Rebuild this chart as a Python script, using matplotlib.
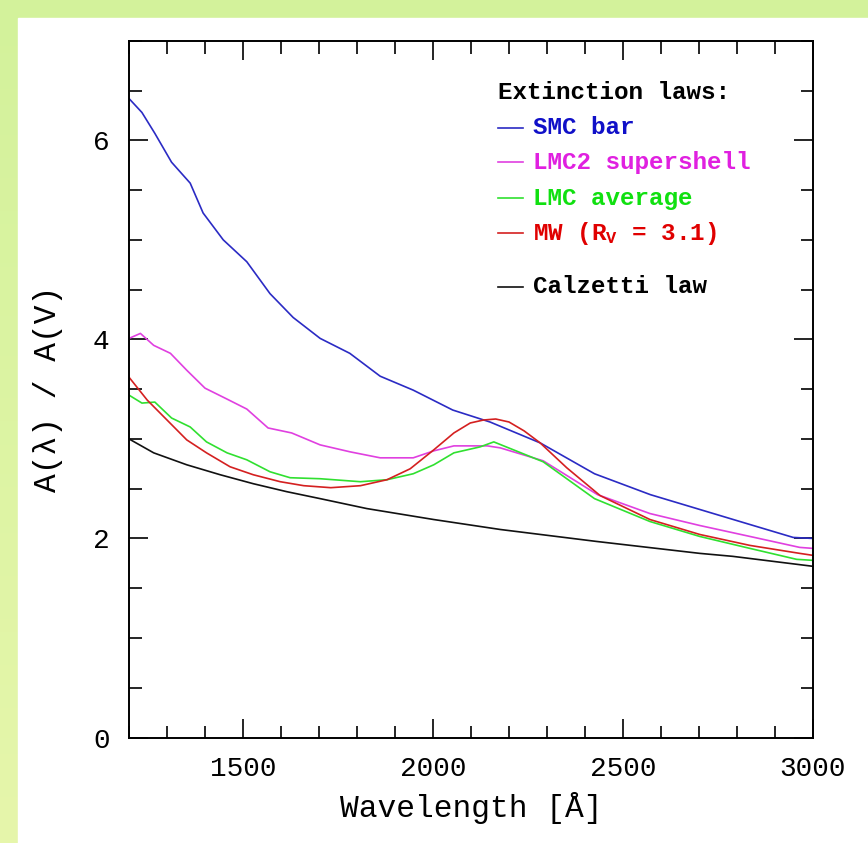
import matplotlib

matplotlib.use("Agg")
import matplotlib.pyplot as plt
import numpy as np
from matplotlib.colors import LinearSegmentedColormap
from matplotlib.patches import Rectangle
from matplotlib.ticker import MultipleLocator

# --- data (wavelength in Angstrom, A(lambda)/A(V)) ---
smc_wave = [1200, 1234, 1268, 1312, 1361, 1395, 1448, 1510, 1571, 1632, 1703, 1781,
            1861, 1948, 2052, 2150, 2282, 2425, 2572, 2703, 2834, 2948, 3000]
smc_ext = [6.42, 6.28, 6.07, 5.78, 5.57, 5.27, 5.00, 4.78, 4.46, 4.22, 4.01, 3.86,
           3.63, 3.49, 3.29, 3.17, 2.96, 2.65, 2.44, 2.29, 2.14, 2.01, 2.00]

lmc2_wave = [1200, 1230, 1265, 1309, 1352, 1400, 1458, 1510, 1566, 1628, 1703, 1782,
             1861, 1948, 2002, 2055, 2143, 2177, 2290, 2433, 2571, 2702, 2834, 2965, 3000]
lmc2_ext = [4.01, 4.06, 3.94, 3.86, 3.69, 3.51, 3.40, 3.30, 3.11, 3.06, 2.94, 2.87,
            2.81, 2.81, 2.88, 2.93, 2.93, 2.91, 2.78, 2.44, 2.25, 2.13, 2.02, 1.91, 1.90]

lmc_wave = [1200, 1234, 1268, 1312, 1361, 1404, 1458, 1510, 1571, 1624, 1703, 1809,
            1879, 1948, 2002, 2055, 2124, 2160, 2290, 2425, 2571, 2702, 2834, 2957, 3000]
lmc_ext = [3.44, 3.36, 3.37, 3.21, 3.12, 2.97, 2.86, 2.79, 2.67, 2.61, 2.60, 2.57,
           2.59, 2.65, 2.74, 2.86, 2.92, 2.97, 2.77, 2.40, 2.17, 2.02, 1.90, 1.79, 1.78]

mw_wave = [1200, 1248, 1300, 1352, 1404, 1466, 1527, 1598, 1660, 1731, 1809, 1879,
           1940, 2002, 2055, 2098, 2133, 2165, 2200, 2240, 2282, 2352, 2440, 2571,
           2702, 2834, 2965, 3000]
mw_ext = [3.62, 3.39, 3.19, 2.99, 2.86, 2.72, 2.64, 2.57, 2.53, 2.51, 2.53, 2.59,
          2.70, 2.89, 3.06, 3.16, 3.19, 3.20, 3.17, 3.08, 2.96, 2.71, 2.43, 2.19,
          2.04, 1.93, 1.85, 1.83]

calz_wave = [1200, 1265, 1352, 1440, 1527, 1615, 1703, 1826, 2002, 2177, 2430, 2702,
             2789, 3000]
calz_ext = [3.00, 2.86, 2.74, 2.64, 2.55, 2.47, 2.40, 2.30, 2.19, 2.09, 1.97, 1.85,
            1.82, 1.72]

legend_title = "Extinction laws:"
legend_labels = ["SMC bar", "LMC2 supershell", "LMC average",
                 r"MW (R$_\mathregular{V}$ = 3.1)", "Calzetti law"]
line_colors = ["#2b2bc4", "#e040e0", "#30e030", "#d42020", "#111111"]
text_colors = ["#1010c8", "#e020e0", "#10e010", "#e00000", "#000000"]

plt.rcParams["font.family"] = ["Liberation Mono", "DejaVu Sans Mono"]
plt.rcParams["mathtext.default"] = "regular"

fig = plt.figure(figsize=(8.68, 8.43), dpi=100)

# light green frame with the white panel on top
bg = fig.add_axes([0, 0, 1, 1], zorder=-10)
bg.axis("off")
green = LinearSegmentedColormap.from_list("frame", ["#d3f29b", "#e6f6ab"])
bg.imshow(np.linspace(0, 1, 256).reshape(-1, 1), extent=[0, 1, 0, 1],
          aspect="auto", cmap=green)
bg.add_patch(Rectangle((18 / 868, 0), 1, 1 - 18 / 843, color="white"))
bg.set_xlim(0, 1)
bg.set_ylim(0, 1)

ax = fig.add_axes([129 / 868, 105.5 / 843, 684 / 868, 696.7 / 843])
series = [(smc_wave, smc_ext), (lmc2_wave, lmc2_ext), (lmc_wave, lmc_ext),
          (mw_wave, mw_ext), (calz_wave, calz_ext)]
for (wave, ext), color in zip(series, line_colors):
    ax.plot(wave, ext, color=color, lw=1.2)

ax.set_xlim(1200, 3000)
ax.set_ylim(0, 7)
ax.xaxis.set_major_locator(MultipleLocator(500))
ax.xaxis.set_minor_locator(MultipleLocator(100))
ax.yaxis.set_major_locator(MultipleLocator(2))
ax.yaxis.set_minor_locator(MultipleLocator(0.5))
ax.tick_params(which="both", direction="in", top=True, right=True, width=1.2,
               labelsize=20)
ax.tick_params(which="major", length=14)
ax.tick_params(which="minor", length=9)
ax.tick_params(axis="x", pad=13)
ax.tick_params(axis="y", pad=14)
for spine in ax.spines.values():
    spine.set_linewidth(1.4)

ax.set_xlabel("Wavelength [Å]", fontsize=22.5, va="center")
ax.xaxis.set_label_coords(0.5, -0.101)
ax.set_ylabel("A(λ) / A(V)", fontsize=22.5, va="center")
ax.yaxis.set_label_coords(-0.118, 0.5)

# hand-made legend block
ax.text(0.5395, 0.9265, legend_title, transform=ax.transAxes, fontsize=17.5,
        fontweight="bold", va="center")
rows = [0.875, 0.826, 0.774, 0.724, 0.647]
for label, lc, tc, y in zip(legend_labels, line_colors, text_colors, rows):
    ax.plot([0.5395, 0.576], [y, y], color=lc, lw=1.2, transform=ax.transAxes)
    ax.text(0.5906, y, label, transform=ax.transAxes, fontsize=17.5,
            fontweight="bold", color=tc, va="center")

fig.savefig("out.png", dpi=100)
